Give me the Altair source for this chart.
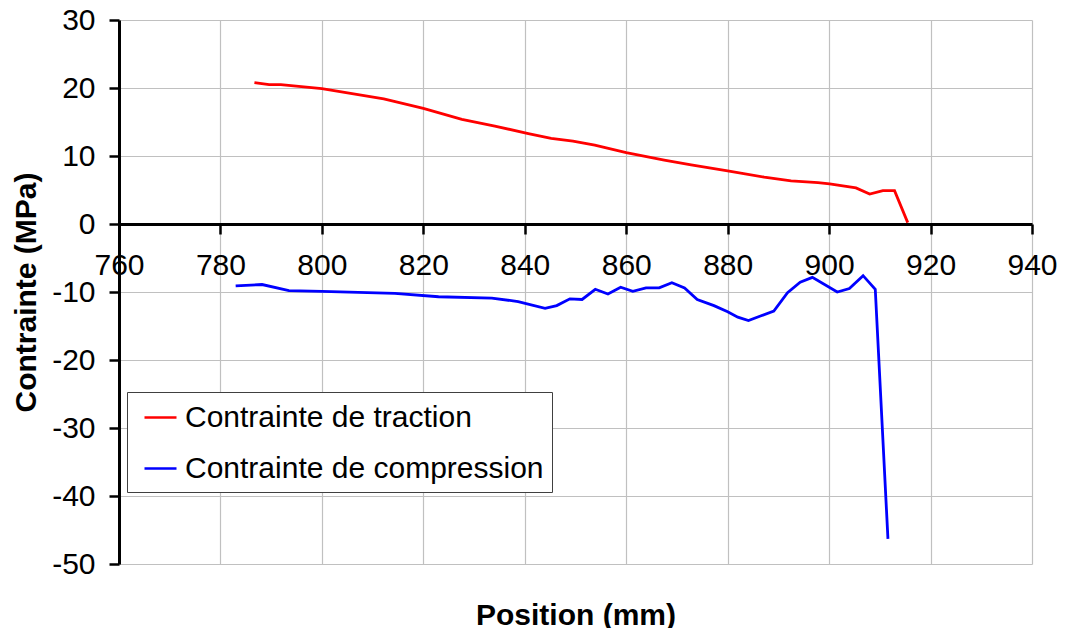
import altair as alt
import pandas as pd

# ---- data ----
pos_traction = [786.7, 789.6, 791.9, 800.0, 812.2, 820.0, 827.6, 834.1, 840.7, 845.2,
                849.5, 853.8, 860.0, 867.5, 872.8, 880.0, 887.2, 892.5, 897.8, 900.1,
                905.3, 908.0, 910.6, 912.9, 915.5]
val_traction = [20.8, 20.5, 20.5, 19.9, 18.4, 17.0, 15.4, 14.4, 13.3, 12.6,
                12.2, 11.6, 10.5, 9.4, 8.7, 7.8, 6.9, 6.35, 6.1, 5.9,
                5.3, 4.4, 4.9, 4.9, 0.2]

pos_compression = [783.0, 788.2, 793.5, 800.0, 814.4, 823.0, 833.5, 838.7, 844.0, 846.3,
                   848.9, 851.3, 853.9, 856.4, 858.9, 861.3, 863.9, 866.5, 869.0, 871.5,
                   874.0, 877.3, 880.0, 882.0, 884.1, 886.6, 889.1, 891.8, 894.3, 896.7,
                   901.6, 904.0, 906.7, 909.1, 911.6]
val_compression = [-9.1, -8.9, -9.8, -9.9, -10.2, -10.7, -10.9, -11.4, -12.4, -12.0,
                   -11.0, -11.1, -9.6, -10.3, -9.3, -9.9, -9.4, -9.4, -8.65, -9.4,
                   -11.1, -12.0, -12.9, -13.7, -14.2, -13.5, -12.8, -10.1, -8.55, -7.85,
                   -10.0, -9.5, -7.6, -9.6, -46.3]

series_names = ["Contrainte de traction", "Contrainte de compression"]
series_colors = ["#ff0000", "#0000ff"]
x_ticks = [760, 780, 800, 820, 840, 860, 880, 900, 920, 940]
y_ticks = [-50, -40, -30, -20, -10, 0, 10, 20, 30]

df_t = pd.DataFrame({"Position": pos_traction, "Contrainte": val_traction,
                     "Serie": series_names[0]})
df_c = pd.DataFrame({"Position": pos_compression, "Contrainte": val_compression,
                     "Serie": series_names[1]})

FONT = "Liberation Sans"
FS = 30
GRID = "#c0c0c0"

x_scale = alt.Scale(domain=[760, 940], nice=False, zero=False)
y_scale = alt.Scale(domain=[-50, 30], nice=False, zero=False)

y_axis = alt.Axis(values=y_ticks, grid=True, gridColor=GRID, gridWidth=1.2,
                  domainColor="black", domainWidth=3, tickColor="black", tickWidth=2.5,
                  tickSize=10, labelFont=FONT, labelFontSize=FS, labelColor="black",
                  labelPadding=14, labelExpr="toString(datum.value)",
                  title="Contrainte (MPa)", titleFont=FONT,
                  titleFontSize=FS, titleFontWeight="bold", titleColor="black",
                  titlePadding=10)

x_axis_grid = alt.Axis(orient="bottom", values=x_ticks, grid=True, gridColor=GRID,
                       gridWidth=1.2, labels=False, ticks=False, domain=False,
                       title="Position (mm)", titleFont=FONT, titleFontSize=FS,
                       titleFontWeight="bold", titleColor="black", titlePadding=36)

x_axis_zero = alt.Axis(orient="bottom", values=x_ticks, grid=False, offset=-340,
                       domainColor="black", domainWidth=3, tickColor="black",
                       tickWidth=2.5, tickSize=10, labelFont=FONT, labelFontSize=FS,
                       labelColor="black", labelPadding=16, labelFlush=False,
                       labelOverlap=False, labelExpr="toString(datum.value)", title=None)

color = alt.Color(
    "Serie:N",
    scale=alt.Scale(domain=series_names, range=series_colors),
    legend=alt.Legend(title=None, orient="none", legendX=8, legendY=372,
                      symbolType="stroke", symbolSize=1024, symbolStrokeWidth=2.5,
                      labelFont=FONT, labelFontSize=FS, labelColor="black",
                      padding=8, rowPadding=18, symbolOffset=8, labelOffset=7,
                      strokeColor="#404040", fillColor="white", labelLimit=600),
)

line_t = alt.Chart(df_t).mark_line(strokeWidth=2.8).encode(
    x=alt.X("Position:Q", scale=x_scale, axis=x_axis_grid),
    y=alt.Y("Contrainte:Q", scale=y_scale, axis=y_axis),
    color=color,
)

line_c = alt.Chart(df_c).mark_line(strokeWidth=2.8).encode(
    x=alt.X("Position:Q", scale=x_scale, axis=x_axis_zero),
    y=alt.Y("Contrainte:Q", scale=y_scale, axis=y_axis),
    color=color,
)

chart = (
    alt.layer(line_t, line_c)
    .resolve_axis(x="independent")
    .properties(width=913, height=544,
                autosize=alt.AutoSizeParams(type="none"),
                padding={"left": 111, "top": 12, "right": 25, "bottom": 64},
                background="white")
    .configure_view(stroke=None)
)

chart.save("out.html", embed_options={"renderer": "svg", "actions": False})
